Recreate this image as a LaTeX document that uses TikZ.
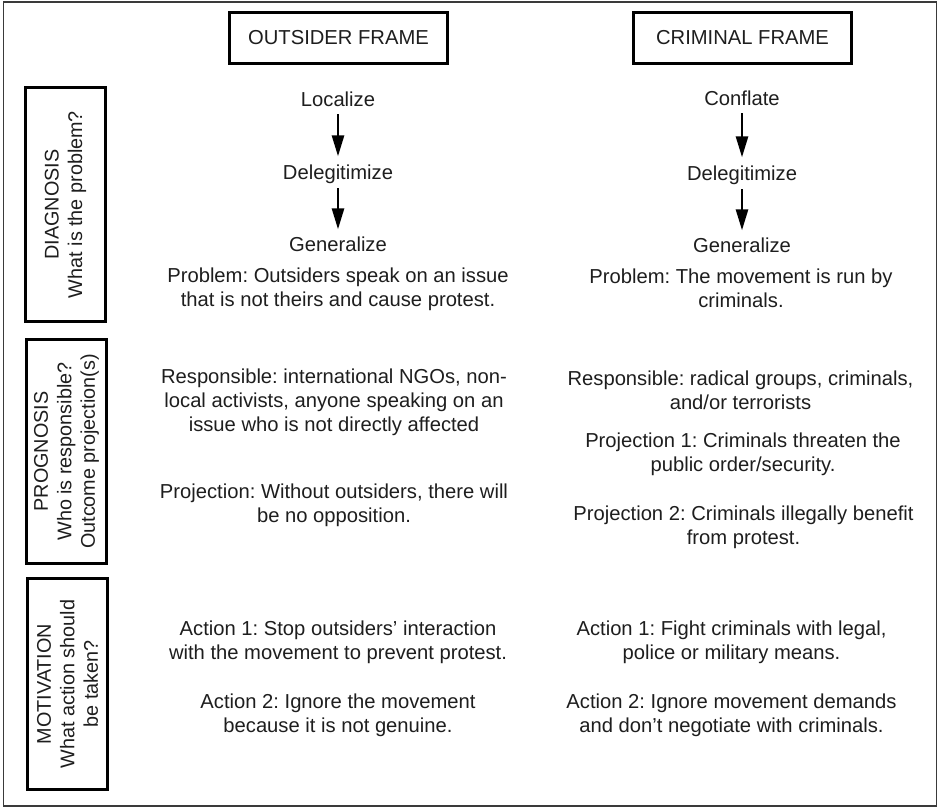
\documentclass[tikz,border=0pt]{standalone}
\usepackage{fontspec}
\setmainfont{Liberation Sans}
\usetikzlibrary{arrows.meta}
\definecolor{ink}{HTML}{1E1E1E}
\definecolor{framegray}{HTML}{3A3A3A}
\frenchspacing
\begin{document}
\begin{tikzpicture}[x=1pt,y=-1pt,
  every node/.style={inner sep=0pt, outer sep=0pt, text=ink,
    font=\fontsize{20.2}{24}\selectfont},
  % multi-line text: the base anchor sits on the last line
  txt/.style={align=center, anchor=base},
  headbox/.style={draw=black, line width=2.6pt, minimum width=218pt,
    minimum height=51pt},
  sidebox/.style={draw=black, line width=2.6pt, rotate=90, align=center,
    minimum height=80pt, font=\fontsize{19.8}{23.5}\selectfont},
  flow/.style={-{Triangle[length=21pt,width=12pt]}, line width=2.6pt, draw=black}]

\useasboundingbox (0,0) rectangle (944,808);
\fill[white] (0,0) rectangle (944,808);
\draw[framegray, line width=1.8pt] (3.5,2) rectangle (936.5,806);

% column headings
\node[headbox] (hout) at (338.5,38) {OUTSIDER FRAME};
\node[headbox] (hcrim) at (742.5,38) {CRIMINAL FRAME};

% row headings
\node[sidebox, minimum width=234pt] (rdiag) at (65.5,204.5)
  {DIAGNOSIS\\What is the problem?};
\node[sidebox, minimum width=224pt] (rprog) at (66.5,451.5)
  {PROGNOSIS\\Who is responsible?\\Outcome projection(s)};
\node[sidebox, minimum width=211pt] (rmot) at (67.5,684)
  {MOTIVATION\\What action should\\be taken?};

% outsider frame: diagnosis
\node[txt] (oloc) at (338,106) {Localize};
\node[txt] (odel) at (338,179) {Delegitimize};
\node[txt] (ogen) at (338,251) {Generalize};
\node[txt] (oprob) at (338,306)
  {Problem: Outsiders speak on an issue\\that is not theirs and cause protest.};
\draw[flow, shorten <=8pt, shorten >=8pt] (oloc.south) -- (odel.north);
\draw[flow, shorten <=5pt, shorten >=7pt] (odel.south) -- (ogen.north);

% outsider frame: prognosis
\node[txt] (oresp) at (334,431)
  {Responsible: international NGOs, non-\\local activists, anyone speaking on an\\issue who is not directly affected};
\node[txt] (oproj) at (334,522)
  {Projection: Without outsiders, there will\\be no opposition.};

% outsider frame: motivation
\node[txt] (oact1) at (338,659)
  {Action 1: Stop outsiders' interaction\\with the movement to prevent protest.};
\node[txt] (oact2) at (338,732)
  {Action 2: Ignore the movement\\because it is not genuine.};

% criminal frame: diagnosis
\node[txt] (cconf) at (742,105) {Conflate};
\node[txt] (cdel) at (742,180) {Delegitimize};
\node[txt] (cgen) at (742,252) {Generalize};
\node[txt] (cprob) at (741,307)
  {Problem: The movement is run by\\criminals.};
\draw[flow, shorten <=8pt, shorten >=8pt] (cconf.south) -- (cdel.north);
\draw[flow, shorten <=5pt, shorten >=7pt] (cdel.south) -- (cgen.north);

% criminal frame: prognosis
\node[txt] (cresp) at (740.5,409)
  {Responsible: radical groups, criminals,\\and/or terrorists};
\node[txt] (cproj1) at (743,471)
  {Projection 1: Criminals threaten the\\public order/security.};
\node[txt] (cproj2) at (743.5,544)
  {Projection 2: Criminals illegally benefit\\from protest.};

% criminal frame: motivation
\node[txt] (cact1) at (731.5,659)
  {Action 1: Fight criminals with legal,\\police or military means.};
\node[txt] (cact2) at (731.5,732)
  {Action 2: Ignore movement demands\\and don't negotiate with criminals.};
\end{tikzpicture}
\end{document}
